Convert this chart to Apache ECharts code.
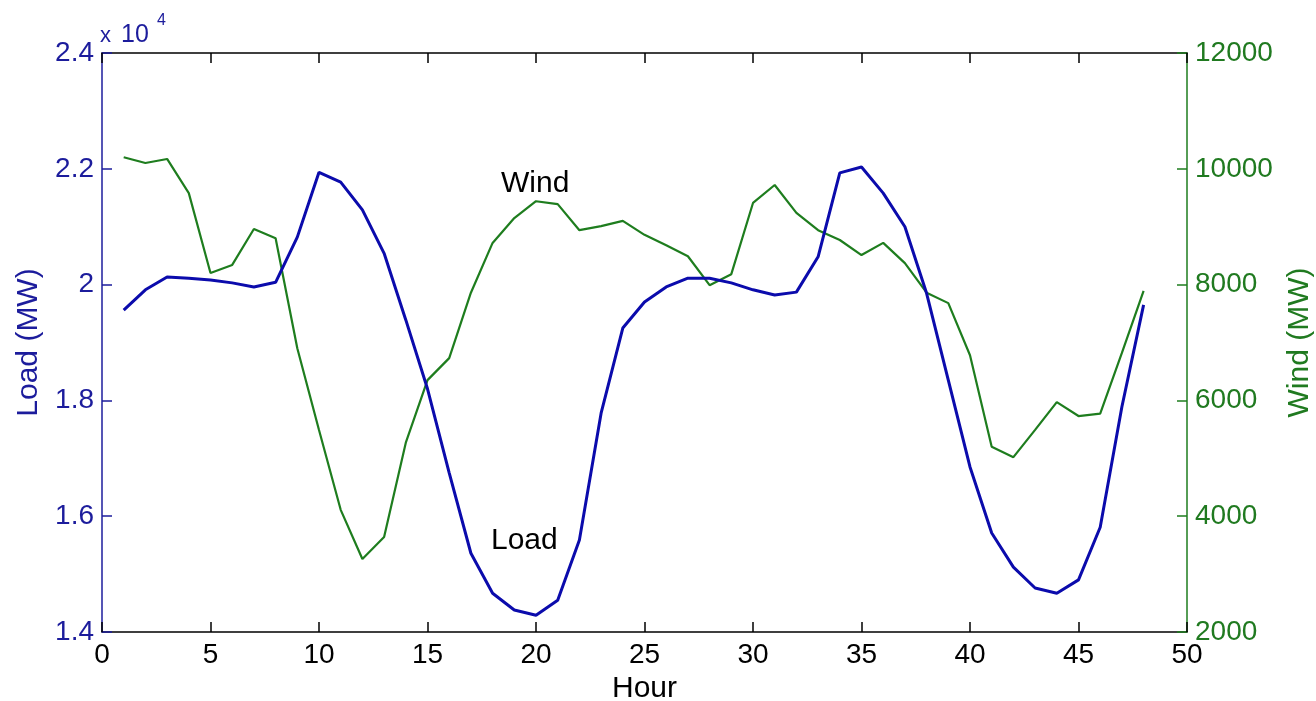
<!DOCTYPE html>
<html>
<head>
<meta charset="utf-8">
<script src="https://cdn.jsdelivr.net/npm/echarts@6/dist/echarts.min.js"></script>
<style>
html,body{margin:0;padding:0;background:#fff;}
#chart{width:1316px;height:701px;}
</style>
</head>
<body>
<div id="chart"></div>
<script>
const hours = [1,2,3,4,5,6,7,8,9,10,11,12,13,14,15,16,17,18,19,20,21,22,23,24,25,26,27,28,29,30,31,32,33,34,35,36,37,38,39,40,41,42,43,44,45,46,47,48];
const load = [19560,19910,20130,20110,20080,20030,19960,20040,20820,21940,21770,21290,20540,19390,18200,16750,15360,14670,14380,14290,14550,15590,17780,19250,19700,19960,20110,20110,20030,19910,19820,19870,20480,21930,22030,21580,21000,19850,18350,16850,15710,15120,14760,14670,14900,15810,17890,19650];
const wind = [10200,10100,10170,9580,8200,8340,8960,8800,6900,5490,4110,3260,3640,5270,6350,6730,7860,8720,9150,9440,9390,8940,9010,9100,8860,8680,8490,7990,8180,9410,9720,9240,8940,8770,8510,8720,8370,7860,7680,6780,5200,5020,5490,5970,5730,5770,6820,7890];
const xTicks = {min:0, max:50, interval:5};
const loadTicks = {min:14000, max:24000, interval:2000};
const windTicks = {min:2000, max:12000, interval:2000};

const FONT = '"Liberation Sans", Arial, sans-serif';
const BLUE = '#0b0bac';
const BLUE_TXT = '#1c1c9c';
const GREEN = '#1e7d1e';
const GREEN_TXT = '#207a20';

const chart = echarts.init(document.getElementById('chart'), null, {renderer:'canvas'});
chart.setOption({
  animation:false,
  backgroundColor:'#fff',
  textStyle:{fontFamily:FONT},
  grid:{left:102, right:129, top:53, bottom:69, containLabel:false, outerBoundsMode:'none'},
  xAxis:[{
    type:'value', min:xTicks.min, max:xTicks.max, interval:xTicks.interval,
    position:'bottom',
    name:'Hour', nameLocation:'middle', nameGap:41,
    nameTextStyle:{color:'#000', fontSize:30, fontFamily:FONT},
    axisLine:{show:true, onZero:false, lineStyle:{color:'#000', width:1.5}},
    axisTick:{show:true, inside:true, length:10, lineStyle:{color:'#000', width:1.5}},
    axisLabel:{show:true, color:'#000', fontSize:28, fontFamily:FONT, margin:9},
    splitLine:{show:false}
  },{
    type:'value', min:xTicks.min, max:xTicks.max, interval:xTicks.interval,
    position:'top',
    axisLine:{show:true, onZero:false, lineStyle:{color:'#000', width:1.5}},
    axisTick:{show:true, inside:true, length:10, lineStyle:{color:'#000', width:1.5}},
    axisLabel:{show:false},
    splitLine:{show:false}
  }],
  yAxis:[{
    type:'value', min:loadTicks.min, max:loadTicks.max, interval:loadTicks.interval,
    position:'left',
    name:'Load (MW)', nameLocation:'middle', nameGap:57, nameRotate:90,
    nameTextStyle:{color:BLUE_TXT, fontSize:30, fontFamily:FONT},
    axisLine:{show:true, onZero:false, lineStyle:{color:BLUE_TXT, width:1.5}},
    axisTick:{show:true, inside:true, length:10, lineStyle:{color:BLUE_TXT, width:1.5}},
    axisLabel:{show:true, color:BLUE_TXT, fontSize:28, fontFamily:FONT, margin:8,
      formatter: v => String(+(v/10000).toFixed(1))},
    splitLine:{show:false}
  },{
    type:'value', min:windTicks.min, max:windTicks.max, interval:windTicks.interval,
    position:'right',
    name:'Wind (MW)', nameLocation:'middle', nameGap:98, nameRotate:90,
    nameTextStyle:{color:GREEN_TXT, fontSize:30, fontFamily:FONT},
    axisLine:{show:true, onZero:false, lineStyle:{color:GREEN, width:1.5}},
    axisTick:{show:true, inside:true, length:10, lineStyle:{color:GREEN, width:1.5}},
    axisLabel:{show:true, color:GREEN_TXT, fontSize:28, fontFamily:FONT, margin:8,
      formatter: v => String(v)},
    splitLine:{show:false}
  }],
  graphic:[
    {type:'text', left:100, top:25, style:{text:'x', fill:BLUE_TXT, font:'22px '+FONT}},
    {type:'text', left:121, top:23, style:{text:'10', fill:BLUE_TXT, font:'25px '+FONT}},
    {type:'text', left:157, top:13, style:{text:'4', fill:BLUE_TXT, font:'16px '+FONT}},
    {type:'text', left:501, top:169, style:{text:'Wind', fill:'#000', font:'30px '+FONT}},
    {type:'text', left:491, top:526, style:{text:'Load', fill:'#000', font:'30px '+FONT}}
  ],
  series:[{
    name:'Load', type:'line', xAxisIndex:0, yAxisIndex:0,
    data: hours.map((h,i)=>[h, load[i]]),
    showSymbol:false, symbol:'none',
    lineStyle:{color:BLUE, width:3}, itemStyle:{color:BLUE}, z:3
  },{
    name:'Wind', type:'line', xAxisIndex:0, yAxisIndex:1,
    data: hours.map((h,i)=>[h, wind[i]]),
    showSymbol:false, symbol:'none',
    lineStyle:{color:GREEN, width:2.2}, itemStyle:{color:GREEN}, z:2
  }]
});
</script>
</body>
</html>
